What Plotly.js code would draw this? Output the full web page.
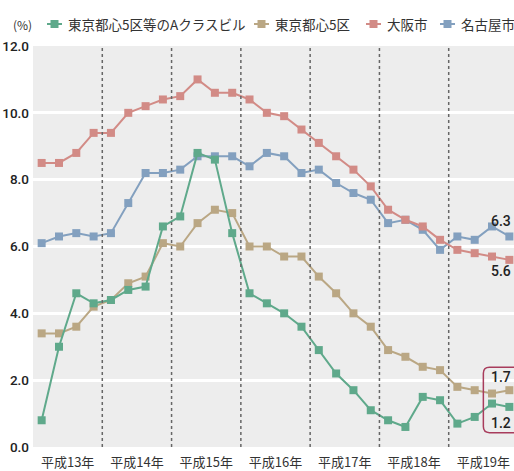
<!DOCTYPE html>
<html>
<head>
<meta charset="utf-8">
<script src="https://cdn.plot.ly/plotly-3.0.1.min.js"></script>
<style>
html,body{margin:0;padding:0;width:514px;height:471px;overflow:hidden;background:#fff;}
#chart{width:530px;height:471px;}
</style>
</head>
<body>
<div id="chart"></div>
<script>
// ---- data ----
const years = ['平成13年','平成14年','平成15年','平成16年','平成17年','平成18年','平成19年'];
const quartersPerYear = 4;
const seriesNames = ['東京都心5区等のAクラスビル','東京都心5区','大阪市','名古屋市'];
const aClass = [0.8,3.0,4.6,4.3,4.4,4.7,4.8,6.6,6.9,8.8,8.6,6.4,4.6,4.3,4.0,3.6,2.9,2.2,1.7,1.1,0.8,0.6,1.5,1.4,0.7,0.9,1.3,1.2];
const tokyo5 = [3.4,3.4,3.6,4.2,4.4,4.9,5.1,6.1,6.0,6.7,7.1,7.0,6.0,6.0,5.7,5.7,5.1,4.6,4.0,3.6,2.9,2.7,2.4,2.3,1.8,1.7,1.6,1.7];
const osaka  = [8.5,8.5,8.8,9.4,9.4,10.0,10.2,10.4,10.5,11.0,10.6,10.6,10.4,10.0,9.9,9.5,9.1,8.7,8.3,7.8,7.1,6.8,6.6,6.2,5.9,5.8,5.7,5.6];
const nagoya = [6.1,6.3,6.4,6.3,6.4,7.3,8.2,8.2,8.3,8.7,8.7,8.7,8.4,8.8,8.7,8.2,8.3,7.9,7.6,7.4,6.7,6.8,6.5,5.9,6.3,6.2,6.6,6.3];
const yTicks = [0,2,4,6,8,10,12];

// ---- styles ----
const colors = ['#5fa98b','#baa784','#d28b86','#83a0bf'];
const seriesData = [aClass, tokyo5, osaka, nagoya];
const numFont = 'Roboto,"Liberation Sans",sans-serif';
const cjkFont = '"Noto Sans CJK JP","Noto Sans",sans-serif';

const nPts = years.length * quartersPerYear;
const xIdx = Array.from({length:nPts},(_,i)=>i);

const traces = [];
for (let s = seriesData.length-1; s >= 0; s--) {
  traces.push({
    x: xIdx, y: seriesData[s], name: seriesNames[s], type:'scatter', mode:'lines+markers',
    line:{color:colors[s], width:2}, marker:{symbol:'square', size:8, color:colors[s]},
    showlegend:false, hoverinfo:'skip', cliponaxis:false
  });
}

const W = 530, H = 471;
const M = {l:33, r:12, t:46, b:24};
const plotW = W - M.l - M.r, plotH = H - M.t - M.b;
const px2paperX = p => (p - M.l)/plotW;
const px2paperY = p => (H - M.b - p)/plotH;

const shapes = [];
// year separators
for (let i = 1; i < years.length; i++) {
  const xb = i*quartersPerYear - 0.5;
  shapes.push({type:'line', xref:'x', yref:'paper', x0:xb, x1:xb, y0:0, y1:1,
    line:{color:'#666', width:1.5, dash:'dot'}, layer:'above'});
}
// highlight box around the last quarter values
const last = nPts - 1;
const bx0 = last - 1.5, bx1 = last + 1.2, by0 = 0.43, by1 = 2.39, rx = 0.35, ry = 0.18;
shapes.push({type:'path', xref:'x', yref:'y', layer:'above',
  path:`M${bx0+rx},${by1} L${bx1},${by1} L${bx1},${by0} L${bx0+rx},${by0} Q${bx0},${by0} ${bx0},${by0+ry} L${bx0},${by1-ry} Q${bx0},${by1} ${bx0+rx},${by1} Z`,
  line:{color:'#a83c5c', width:1.5}, fillcolor:'rgba(0,0,0,0)'});

// custom legend
const legendPx = [47, 254, 366, 440];
const legendY = px2paperY(24);
const annotations = [];
seriesNames.forEach((nm, i) => {
  const x0 = px2paperX(legendPx[i]), x1 = px2paperX(legendPx[i]+15), xc = px2paperX(legendPx[i]+7.5);
  shapes.push({type:'line', xref:'paper', yref:'paper', x0:x0, x1:x1, y0:legendY, y1:legendY,
    line:{color:colors[i], width:2}});
  shapes.push({type:'rect', xref:'paper', yref:'paper', xsizemode:'pixel', ysizemode:'pixel',
    xanchor:xc, yanchor:legendY, x0:-4, x1:4, y0:-4, y1:4,
    line:{width:0}, fillcolor:colors[i]});
  annotations.push({xref:'paper', yref:'paper', x:px2paperX(legendPx[i]+19), y:legendY,
    xanchor:'left', yanchor:'middle', showarrow:false, text:nm,
    font:{family:cjkFont, size:13.5, color:'#333'}});
});
annotations.push({xref:'paper', yref:'paper', x:px2paperX(22), y:legendY, xanchor:'center', yanchor:'middle',
  showarrow:false, text:'(%)', font:{family:cjkFont, size:12, color:'#333'}});

// end-value labels (right-aligned just inside the visible edge)
const endLabels = [
  {s:3, yshift:15},
  {s:2, yshift:-11},
  {s:1, yshift:13},
  {s:0, yshift:-16}
];
endLabels.forEach(o => {
  annotations.push({xref:'x', yref:'y', x:last, y:seriesData[o.s][last], yshift:o.yshift, xshift:4,
    xanchor:'right', yanchor:'middle', showarrow:false, text:seriesData[o.s][last].toFixed(1),
    font:{family:numFont, size:14, color:'#222', weight:500}});
});

const layout = {
  width:W, height:H, margin:M,
  paper_bgcolor:'#ffffff', plot_bgcolor:'#ededed',
  showlegend:false,
  xaxis:{range:[-0.5, nPts-0.5], showgrid:false, zeroline:false, showline:false,
    tickmode:'array', tickvals:years.map((_,i)=>i*quartersPerYear+(quartersPerYear-1)/2), ticktext:years,
    ticks:'', ticklabelstandoff:6, tickfont:{family:cjkFont, size:13, color:'#333'}, fixedrange:true},
  yaxis:{range:[0,12], tickmode:'array', tickvals:yTicks, ticktext:yTicks.map(v=>v.toFixed(1)),
    showgrid:true, gridcolor:'#ffffff', gridwidth:3, zeroline:false, showline:false, ticks:'',
    ticklabelstandoff:3,
    tickfont:{family:numFont, size:13.5, color:'#222', weight:500}, fixedrange:true},
  shapes:shapes, annotations:annotations
};

Plotly.newPlot('chart', traces, layout, {staticPlot:true, displayModeBar:false});
</script>
</body>
</html>
